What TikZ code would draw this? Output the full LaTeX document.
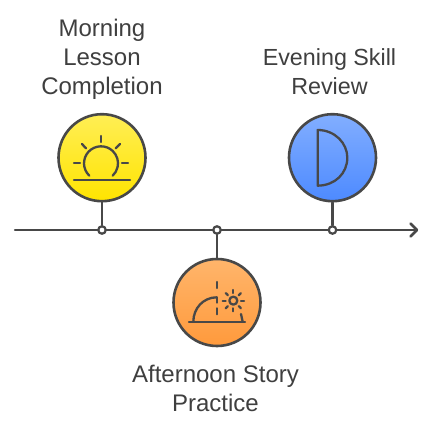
\documentclass[tikz,border=0pt]{standalone}
\usepackage{fontspec}
\setmainfont{Liberation Sans}
\usetikzlibrary{calc}
\definecolor{ink}{HTML}{484848}
\definecolor{txt}{HTML}{3F3F3F}
\definecolor{yt}{HTML}{FFEE55}
\definecolor{yb}{HTML}{FFE400}
\definecolor{ot}{HTML}{FFB56B}
\definecolor{ob}{HTML}{FF9A3C}
\definecolor{bt}{HTML}{82AEFF}
\definecolor{bb}{HTML}{4D8AFF}
\tikzset{
 line/.style={draw=ink,line width=2.5pt,line cap=round,line join=round},
 iconline/.style={draw=ink,line width=2.3pt,line cap=round,line join=round},
 disc/.style={circle,draw=ink,line width=2.6pt,minimum size=87pt,inner sep=0pt},
 dot/.style={circle,draw=ink,line width=2.2pt,fill=white,minimum size=7.5pt,inner sep=0pt},
 lab/.style={text=txt,align=center,font=\fontsize{24}{29}\selectfont,inner sep=0pt}
}
\begin{document}
\begin{tikzpicture}[x=1pt,y=-1pt]
\useasboundingbox (0,0) rectangle (434,433);
\coordinate (start) at (15,230);
\coordinate (end) at (417,230);
\coordinate (h1) at (410.5,223.5);
\coordinate (h2) at (410.5,236.5);
\draw[line] (start) -- (end);
\draw[line] (h1) -- (end) -- (h2);
\node[disc,top color=yt,bottom color=yb] (c1) at (102,157.7) {};
\node[disc,top color=ot,bottom color=ob] (c2) at (217,302.5) {};
\node[disc,top color=bt,bottom color=bb] (c3) at (332.5,157.7) {};
\node[dot] (d1) at (102,230) {};
\node[dot] (d2) at (217,230) {};
\node[dot] (d3) at (332.5,230) {};
\draw[line] (c1) -- (d1);
\draw[line] (d2) -- (c2);
\draw[line] (c3) -- (d3);
% sun
\begin{scope}[shift={(50,105)},x=0.3333pt,y=-0.3333pt]
\draw[iconline] (118,212) arc[start angle=133.4,end angle=406.6,radius=51];
\draw[iconline] (72,225) -- (240,225);
\draw[iconline] (152,93) -- (152,111);
\draw[iconline] (96,117) -- (108,130);
\draw[iconline] (210,117) -- (197,130);
\draw[iconline] (72,175) -- (90,175);
\draw[iconline] (216,175) -- (234,175);
\end{scope}
% afternoon
\begin{scope}[shift={(165,220)},x=0.3333pt,y=-0.3333pt]
\draw[iconline] (72,305) -- (240,305);
\draw[iconline] (85,305) .. controls (85,265) and (115,232) .. (155,232);
\draw[iconline] (228,282) -- (233,305);
\draw[iconline] (155,186) -- (155,204);
\draw[iconline] (155,232) -- (155,248);
\draw[iconline] (155,265) -- (155,283);
\draw[iconline] (205,242) circle[radius=12];
\foreach \a in {0,45,...,315}
 \draw[iconline] ($(205,242)+(\a:23)$) -- ($(205,242)+(\a:32)$);
\end{scope}
% half moon
\begin{scope}[shift={(280,105)},x=0.3333pt,y=-0.3333pt]
\draw[iconline] (113,75) .. controls (165,75) and (202,115) .. (202,158) .. controls (202,205) and (165,242) .. (113,242) -- cycle;
\end{scope}
\node[lab] at (102,59) {Morning\\Lesson\\Completion};
\node[lab,font=\fontsize{23.3}{29}\selectfont] at (329.5,71.5) {Evening Skill\\Review};
\node[lab] at (215.5,388.5) {Afternoon Story\\Practice};
\end{tikzpicture}
\end{document}
